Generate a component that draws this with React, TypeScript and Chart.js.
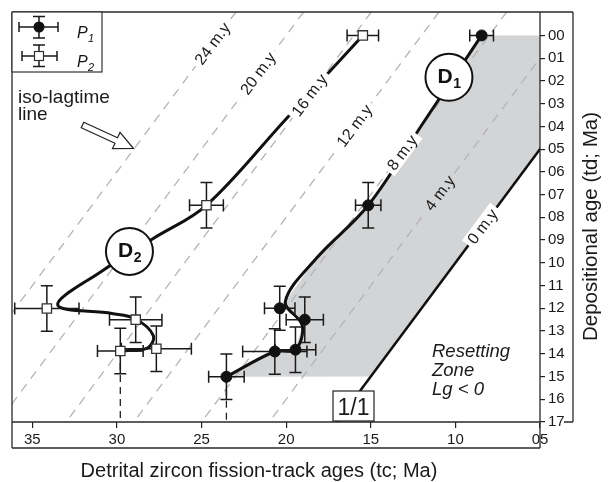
import React, { useEffect, useRef } from "react";
import { Chart, registerables } from "chart.js";

Chart.register(...registerables);

const FONT = '"Liberation Sans", Arial, Helvetica, sans-serif';

// ---- axes ----
const xTickValues = [35, 30, 25, 20, 15, 10, 5];
const yTickValues = [0, 1, 2, 3, 4, 5, 6, 7, 8, 9, 10, 11, 12, 13, 14, 15, 16, 17];
const tcMin = 5;
const tcMax = 36.2;
const tdMin = -1.03;
const tdMax = 17;

// ---- P1 samples (tc, td, errors) ----
const p1Tc = [8.45, 15.15, 20.38, 18.9, 20.67, 19.45, 23.53];
const p1Td = [0, 7.47, 12.0, 12.5, 13.9, 13.82, 15.01];
const p1TcErr = [0.7, 0.75, 0.9, 1.1, 1.9, 1.2, 1.05];
const p1TdErr = [0, 1.0, 0.97, 1.0, 1.0, 1.0, 1.0];

// ---- P2 samples ----
const p2Tc = [15.47, 24.71, 34.14, 28.89, 29.8, 27.67];
const p2Td = [0, 7.47, 12.01, 12.5, 13.88, 13.78];
const p2TcErr = [0.93, 1.0, 1.9, 1.55, 1.35, 2.07];
const p2TdErr = [0, 1.0, 1.0, 1.0, 1.0, 1.0];

// ---- hand-drawn trend curves D1, D2 (vertices) ----
const d1Tc = [8.45, 11.8, 15.15, 18.2, 20.05, 19.05, 19.45, 20.67, 23.53];
const d1Td = [0, 3.73, 7.47, 9.79, 11.7, 12.75, 13.82, 13.9, 15.01];
const d2Tc = [15.47, 20.1, 24.71, 27.83, 30.9, 33.5, 30.3, 28.95, 27.85, 28.2, 29.8];
const d2Td = [0, 3.75, 7.47, 8.92, 10.37, 11.85, 12.23, 12.45, 13.2, 13.75, 13.88];

// ---- shaded zone closing corners (after D1 path) ----
const zoneCornerTc = [15, 5, 5];
const zoneCornerTd = [15, 5, 0];

// ---- iso-lagtime lines ----
const lagValues = [4, 8, 12, 16, 20, 24];
const lagLabelTd = [6.93, 5.15, 3.97, 2.63, 1.67, 0.36];
const zeroLagLabelTd = 8.4;

// ---- tags ----
const tagNames = ["1", "2"];
const tagTc = [10.38, 29.26];
const tagTd = [1.84, 9.5];

// samples with a dashed drop line to the axis
const p1DropIndex = 6;
const p2DropIndex = 4;

const pts = (xs: number[], ys: number[]) => xs.map((x, i) => ({ x, y: ys[i] }));

function crossBars(
  ctx: CanvasRenderingContext2D,
  cx: number,
  cy: number,
  hx1: number,
  hx2: number,
  vy1: number,
  vy2: number,
  capH: number,
  capV: number
) {
  ctx.beginPath();
  if (hx1 !== hx2) {
    ctx.moveTo(hx1, cy);
    ctx.lineTo(hx2, cy);
    ctx.moveTo(hx1, cy - capH);
    ctx.lineTo(hx1, cy + capH);
    ctx.moveTo(hx2, cy - capH);
    ctx.lineTo(hx2, cy + capH);
  }
  if (vy1 !== vy2) {
    ctx.moveTo(cx, vy1);
    ctx.lineTo(cx, vy2);
    ctx.moveTo(cx - capV, vy1);
    ctx.lineTo(cx + capV, vy1);
    ctx.moveTo(cx - capV, vy2);
    ctx.lineTo(cx + capV, vy2);
  }
  ctx.stroke();
}

function drawErrorBars(chart: any, tcs: number[], tds: number[], tcErr: number[], tdErr: number[]) {
  const { ctx, scales } = chart;
  const xs = scales.x;
  const ys = scales.y;
  ctx.save();
  ctx.strokeStyle = "#1a1a1a";
  ctx.lineWidth = 1.5;
  tcs.forEach((tc, i) => {
    const td = tds[i];
    const cx = xs.getPixelForValue(tc);
    const cy = ys.getPixelForValue(td);
    const hx1 = xs.getPixelForValue(tc + tcErr[i]);
    const hx2 = xs.getPixelForValue(tc - tcErr[i]);
    const vy1 = ys.getPixelForValue(td - tdErr[i]);
    const vy2 = ys.getPixelForValue(td + tdErr[i]);
    crossBars(ctx, cx, cy, hx1, hx2, vy1, vy2, 6, 6);
  });
  ctx.restore();
}

function drawSlopedLabel(chart: any, tc: number, td: number, text: string, bg: string) {
  const { ctx, scales } = chart;
  const xs = scales.x;
  const ys = scales.y;
  const x0 = xs.getPixelForValue(tc);
  const y0 = ys.getPixelForValue(td);
  const ang = Math.atan2(ys.getPixelForValue(td - 1) - y0, xs.getPixelForValue(tc - 1) - x0);
  ctx.save();
  ctx.translate(x0, y0);
  ctx.rotate(ang);
  ctx.font = `16px ${FONT}`;
  const w = ctx.measureText(text).width;
  ctx.fillStyle = bg;
  ctx.fillRect(-w / 2 - 4, -8, w + 8, 16);
  ctx.fillStyle = "#1a1a1a";
  ctx.textAlign = "center";
  ctx.textBaseline = "middle";
  ctx.fillText(text, 0, 1);
  ctx.restore();
}

function drawCircleTag(chart: any, tc: number, td: number, sub: string) {
  const { ctx, scales } = chart;
  const cx = scales.x.getPixelForValue(tc);
  const cy = scales.y.getPixelForValue(td);
  ctx.save();
  ctx.beginPath();
  ctx.arc(cx, cy, 23.5, 0, Math.PI * 2);
  ctx.fillStyle = "#fff";
  ctx.fill();
  ctx.lineWidth = 2;
  ctx.strokeStyle = "#111";
  ctx.stroke();
  ctx.fillStyle = "#111";
  ctx.textAlign = "left";
  ctx.textBaseline = "alphabetic";
  ctx.font = `bold 21px ${FONT}`;
  const wMain = ctx.measureText("D").width;
  ctx.font = `bold 14px ${FONT}`;
  const wSub = ctx.measureText(sub).width;
  const sx = cx - (wMain + wSub) / 2;
  ctx.font = `bold 21px ${FONT}`;
  ctx.fillText("D", sx, cy + 5.5);
  ctx.font = `bold 14px ${FONT}`;
  ctx.fillText(sub, sx + wMain + 0.5, cy + 11);
  ctx.restore();
}

function drawFrame(chart: any) {
  const { ctx, chartArea } = chart;
  const { left, top, right, bottom } = chartArea;
  const outerR = right + 33;
  const outerB = bottom + 26;
  ctx.save();
  ctx.strokeStyle = "#2a2a2a";
  ctx.lineWidth = 1.3;
  ctx.beginPath();
  ctx.moveTo(left, top);
  ctx.lineTo(outerR, top);
  ctx.moveTo(left, top);
  ctx.lineTo(left, outerB);
  ctx.moveTo(left, outerB);
  ctx.lineTo(right, outerB);
  ctx.moveTo(right, top);
  ctx.lineTo(right, outerB);
  ctx.moveTo(outerR, top);
  ctx.lineTo(outerR, bottom);
  ctx.moveTo(left, bottom);
  ctx.lineTo(right, bottom);
  ctx.moveTo(right + 24, bottom);
  ctx.lineTo(outerR, bottom);
  ctx.stroke();
  ctx.restore();
}

function drawLegend(chart: any) {
  const { ctx, chartArea } = chart;
  const { left, top } = chartArea;
  ctx.save();
  ctx.fillStyle = "#fff";
  ctx.fillRect(left, top, 90, 60);
  ctx.strokeStyle = "#333";
  ctx.lineWidth = 1.2;
  ctx.strokeRect(left, top, 90, 60);
  ctx.strokeStyle = "#1a1a1a";
  ctx.lineWidth = 1.5;
  // P1 symbol
  const c1x = left + 27;
  const c1y = top + 15;
  crossBars(ctx, c1x, c1y, c1x - 20, c1x + 19, c1y - 10.5, c1y + 11, 5, 6);
  ctx.beginPath();
  ctx.arc(c1x, c1y, 5.5, 0, Math.PI * 2);
  ctx.fillStyle = "#111";
  ctx.fill();
  // P2 symbol
  const c2x = left + 27;
  const c2y = top + 44;
  crossBars(ctx, c2x, c2y, c2x - 17, c2x + 18, c2y - 11, c2y + 10.5, 5, 6);
  ctx.fillStyle = "#fff";
  ctx.fillRect(c2x - 4.5, c2y - 4.5, 9, 9);
  ctx.strokeStyle = "#333";
  ctx.lineWidth = 1.2;
  ctx.strokeRect(c2x - 4.5, c2y - 4.5, 9, 9);
  // texts
  ctx.fillStyle = "#111";
  ctx.textBaseline = "alphabetic";
  ctx.textAlign = "left";
  ctx.font = `italic 16px ${FONT}`;
  ctx.fillText("P", left + 65, top + 26);
  ctx.fillText("P", left + 65, top + 55);
  ctx.font = `italic 11px ${FONT}`;
  ctx.fillText("1", left + 76, top + 30);
  ctx.fillText("2", left + 76, top + 59);
  ctx.restore();
}

function drawHollowArrow(ctx: CanvasRenderingContext2D, x0: number, y0: number, x1: number, y1: number) {
  const len = Math.hypot(x1 - x0, y1 - y0);
  const ux = (x1 - x0) / len;
  const uy = (y1 - y0) / len;
  const nx = -uy;
  const ny = ux;
  const sh = 3;
  const hh = 9;
  const hl = 19;
  const bx = x1 - ux * hl;
  const by = y1 - uy * hl;
  ctx.save();
  ctx.beginPath();
  ctx.moveTo(x0 + nx * sh, y0 + ny * sh);
  ctx.lineTo(bx + nx * sh, by + ny * sh);
  ctx.lineTo(bx + nx * hh, by + ny * hh);
  ctx.lineTo(x1, y1);
  ctx.lineTo(bx - nx * hh, by - ny * hh);
  ctx.lineTo(bx - nx * sh, by - ny * sh);
  ctx.lineTo(x0 - nx * sh, y0 - ny * sh);
  ctx.closePath();
  ctx.fillStyle = "#fff";
  ctx.fill();
  ctx.strokeStyle = "#222";
  ctx.lineWidth = 1.2;
  ctx.stroke();
  ctx.restore();
}

function drawTexts(chart: any) {
  const { ctx, chartArea } = chart;
  const { left, top, right, bottom } = chartArea;
  ctx.save();
  ctx.fillStyle = "#1a1a1a";
  ctx.textBaseline = "alphabetic";
  ctx.textAlign = "left";
  // iso-lagtime note
  ctx.font = `19px ${FONT}`;
  ctx.fillText("iso-lagtime", left + 6, top + 90.5);
  ctx.fillText("line", left + 6, top + 108);
  drawHollowArrow(ctx, left + 70.5, top + 113, left + 121.5, top + 136.5);
  // resetting zone
  ctx.fillStyle = "#1a1a1a";
  ctx.font = `italic 18.5px ${FONT}`;
  ctx.fillText("Resetting", left + 420, top + 345);
  ctx.fillText("Zone", left + 420, top + 364);
  ctx.fillText("Lg < 0", left + 420, top + 383);
  // 1/1 box
  const bx = left + 321;
  const by = top + 379;
  ctx.fillStyle = "#fff";
  ctx.fillRect(bx, by, 41, 30);
  ctx.strokeStyle = "#222";
  ctx.lineWidth = 1.2;
  ctx.strokeRect(bx, by, 41, 30);
  ctx.fillStyle = "#1a1a1a";
  ctx.font = `23px ${FONT}`;
  ctx.textAlign = "center";
  ctx.fillText("1/1", bx + 20.5, by + 24);
  // x-axis title
  ctx.font = `20px ${FONT}`;
  ctx.textAlign = "center";
  ctx.fillText("Detrital zircon fission-track ages (tc; Ma)", left + 247, bottom + 55);
  // y-axis title
  ctx.save();
  ctx.translate(right + 57, top + 214.5);
  ctx.rotate(-Math.PI / 2);
  ctx.textAlign = "center";
  ctx.font = `20.5px ${FONT}`;
  ctx.fillText("Depositional age (td; Ma)", 0, 0);
  ctx.restore();
  ctx.restore();
}

const decorPlugin = {
  id: "decor",
  beforeDatasetDraw(chart: any, args: any) {
    if (args.index === 1) {
      lagValues.forEach((lag, i) => {
        const td = lagLabelTd[i];
        drawSlopedLabel(chart, td + lag, td, `${lag} m.y`, lag === 4 ? "#d3d4d6" : "#fff");
      });
      drawSlopedLabel(chart, zeroLagLabelTd, zeroLagLabelTd, "0 m.y", "#fff");
      tagNames.forEach((n, i) => drawCircleTag(chart, tagTc[i], tagTd[i], n));
      drawErrorBars(chart, p2Tc, p2Td, p2TcErr, p2TdErr);
    } else if (args.index === 0) {
      drawErrorBars(chart, p1Tc, p1Td, p1TcErr, p1TdErr);
    }
  },
  afterDraw(chart: any) {
    drawFrame(chart);
    drawLegend(chart);
    drawTexts(chart);
  },
};

function buildConfig(): any {
  const lagDatasets = lagValues.map((lag) => ({
    label: `lag ${lag}`,
    data: [
      { x: tdMin + lag, y: tdMin },
      { x: tdMax + lag, y: tdMax },
    ],
    showLine: true,
    borderColor: "#b4b4b4",
    borderWidth: 1.3,
    borderDash: [9, 7],
    pointRadius: 0,
    fill: false,
    order: 6,
  }));
  const zoneData = [...pts(d1Tc, d1Td), ...pts(zoneCornerTc, zoneCornerTd)];
  return {
    type: "scatter",
    data: {
      datasets: [
        {
          label: "P1",
          data: pts(p1Tc, p1Td),
          pointStyle: "circle",
          pointRadius: 5.5,
          backgroundColor: "#111",
          borderColor: "#111",
          borderWidth: 1,
          order: 0,
        },
        {
          label: "P2",
          data: pts(p2Tc, p2Td),
          pointStyle: "rect",
          pointRadius: 6.6,
          backgroundColor: "#fff",
          borderColor: "#333",
          borderWidth: 1.3,
          order: 1,
        },
        {
          label: "D1",
          data: pts(d1Tc, d1Td),
          showLine: true,
          tension: 0.35,
          borderColor: "#111",
          borderWidth: 3,
          pointRadius: 0,
          order: 2,
        },
        {
          label: "D2",
          data: pts(d2Tc, d2Td),
          showLine: true,
          tension: 0.35,
          borderColor: "#111",
          borderWidth: 3,
          pointRadius: 0,
          order: 3,
        },
        {
          label: "drop P1",
          data: [
            { x: p1Tc[p1DropIndex], y: p1Td[p1DropIndex] },
            { x: p1Tc[p1DropIndex], y: tdMax },
          ],
          showLine: true,
          borderColor: "#222",
          borderWidth: 1.3,
          borderDash: [7, 5],
          pointRadius: 0,
          order: 4,
        },
        {
          label: "drop P2",
          data: [
            { x: p2Tc[p2DropIndex], y: p2Td[p2DropIndex] },
            { x: p2Tc[p2DropIndex], y: tdMax },
          ],
          showLine: true,
          borderColor: "#222",
          borderWidth: 1.3,
          borderDash: [7, 5],
          pointRadius: 0,
          order: 4,
        },
        {
          label: "lag 0",
          data: [
            { x: tdMin, y: tdMin },
            { x: tdMax, y: tdMax },
          ],
          showLine: true,
          borderColor: "#111",
          borderWidth: 2.5,
          pointRadius: 0,
          order: 5,
        },
        ...lagDatasets,
        {
          label: "zone",
          data: zoneData,
          showLine: true,
          tension: 0,
          fill: "shape",
          backgroundColor: "#d3d4d6",
          borderColor: "rgba(0,0,0,0)",
          borderWidth: 0,
          pointRadius: 0,
          order: 7,
        },
      ],
    },
    options: {
      responsive: false,
      animation: false,
      devicePixelRatio: 1,
      events: [],
      layout: { padding: { left: 12, top: 8, right: 0, bottom: 0 } },
      plugins: { legend: { display: false }, tooltip: { enabled: false } },
      scales: {
        x: {
          type: "linear",
          reverse: true,
          min: tcMin,
          max: tcMax,
          afterBuildTicks: (scale: any) => {
            scale.ticks = xTickValues.map((v) => ({ value: v }));
          },
          afterFit: (scale: any) => {
            scale.height = 60;
          },
          border: { display: false },
          grid: { drawOnChartArea: false, drawTicks: true, tickLength: 6, color: "#222", lineWidth: 1.2 },
          ticks: {
            autoSkip: false,
            maxRotation: 0,
            padding: 3,
            color: "#1a1a1a",
            font: { size: 15, family: FONT },
            callback: (v: number) => String(v).padStart(2, "0"),
          },
        },
        y: {
          type: "linear",
          position: "right",
          reverse: true,
          min: tdMin,
          max: tdMax,
          afterBuildTicks: (scale: any) => {
            scale.ticks = yTickValues.map((v) => ({ value: v }));
          },
          afterFit: (scale: any) => {
            scale.width = 69;
          },
          border: { display: false },
          grid: { drawOnChartArea: false, drawTicks: true, tickLength: 5, color: "#222", lineWidth: 1.2 },
          ticks: {
            autoSkip: false,
            padding: 3,
            color: "#1a1a1a",
            font: { size: 15, family: FONT },
            callback: (v: number) => String(v).padStart(2, "0"),
          },
        },
      },
    },
    plugins: [decorPlugin],
  };
}

export default function App() {
  const ref = useRef<HTMLCanvasElement>(null);
  useEffect(() => {
    document.body.style.margin = "0";
    const canvas = ref.current;
    if (!canvas) return;
    Chart.defaults.font.family = FONT;
    const chart = new Chart(canvas, buildConfig());
    return () => chart.destroy();
  }, []);
  return (
    <div style={{ width: 609, height: 482 }}>
      <canvas ref={ref} width={609} height={482} style={{ display: "block", width: 609, height: 482 }} />
    </div>
  );
}
